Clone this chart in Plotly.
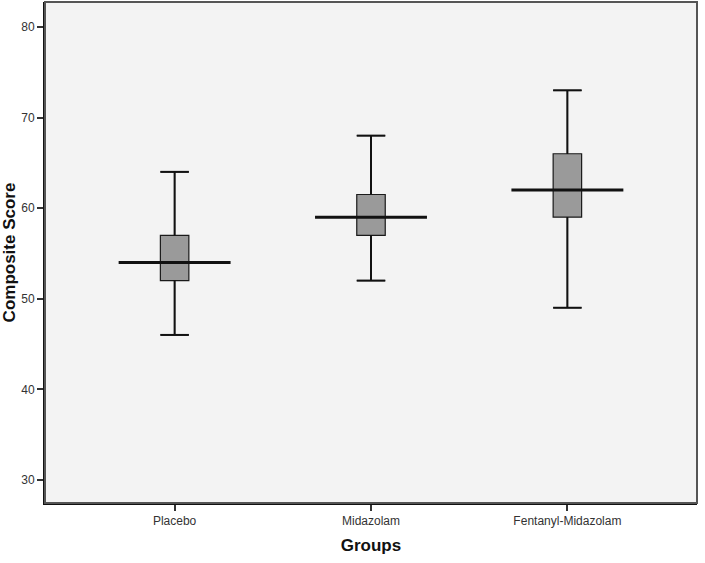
import plotly.graph_objects as go

groups = ["Placebo", "Midazolam", "Fentanyl-Midazolam"]
lower = [46, 52, 49]
q1 = [52, 57, 59]
median = [54, 59, 62]
q3 = [57, 61.5, 66]
upper = [64, 68, 73]
y_ticks = [30, 40, 50, 60, 70, 80]

box_w = 0.145
med_half = 0.285

fig = go.Figure()
xs = list(range(len(groups)))

fig.add_trace(go.Box(
    x=xs, q1=q1, median=median, q3=q3, lowerfence=lower, upperfence=upper,
    width=box_w, whiskerwidth=1, fillcolor="#9a9a9a",
    line=dict(color="#1a1a1a", width=1.2), boxpoints=False, showlegend=False,
    hoverinfo="skip",
))

# whiskers drawn a bit heavier than the box outline
for i in xs:
    wx, wy = [], []
    for a, b in [(upper[i], q3[i]), (q1[i], lower[i])]:
        wx += [i, i, None]
        wy += [a, b, None]
    for v in [upper[i], lower[i]]:
        wx += [i - box_w / 2, i + box_w / 2, None]
        wy += [v, v, None]
    fig.add_trace(go.Scatter(x=wx, y=wy, mode="lines",
                             line=dict(color="#111111", width=2),
                             showlegend=False, hoverinfo="skip"))
    fig.add_trace(go.Scatter(x=[i - med_half, i + med_half], y=[median[i], median[i]],
                             mode="lines", line=dict(color="#111111", width=3),
                             showlegend=False, hoverinfo="skip"))

fig.update_layout(
    width=705, height=563,
    margin=dict(l=45, r=8, t=2, b=60),
    paper_bgcolor="white", plot_bgcolor="#f3f3f3",
    font=dict(family="Liberation Sans, Arial, sans-serif", color="#333333", size=12),
    shapes=[dict(type="rect", xref="paper", yref="paper", x0=0, y0=0, x1=1, y1=1,
                 line=dict(color="#555555", width=2), layer="above")],
)
fig.update_xaxes(
    range=[-0.66, 2.66], tickvals=xs, ticktext=groups,
    showgrid=False, zeroline=False, showline=True, linecolor="#111111", linewidth=2,
    ticks="outside", ticklen=6, tickcolor="#333333", tickwidth=2,
    title=dict(text="<b>Groups</b>", font=dict(size=17, color="#111111"), standoff=12),
)
fig.update_yaxes(
    range=[27.45, 82.75], tickvals=y_ticks,
    showgrid=False, zeroline=False, showline=True, linecolor="#111111", linewidth=2,
    ticks="outside", ticklen=6, tickcolor="#333333", tickwidth=2,
    title=dict(text="<b>Composite Score</b>", font=dict(size=17, color="#111111"), standoff=4),
)

# page body has a default 8px margin; drop it so the chart sits at the window edge
fig.write_html("out.html", config={"displayModeBar": False},
               post_script="document.body.style.margin='0';")
